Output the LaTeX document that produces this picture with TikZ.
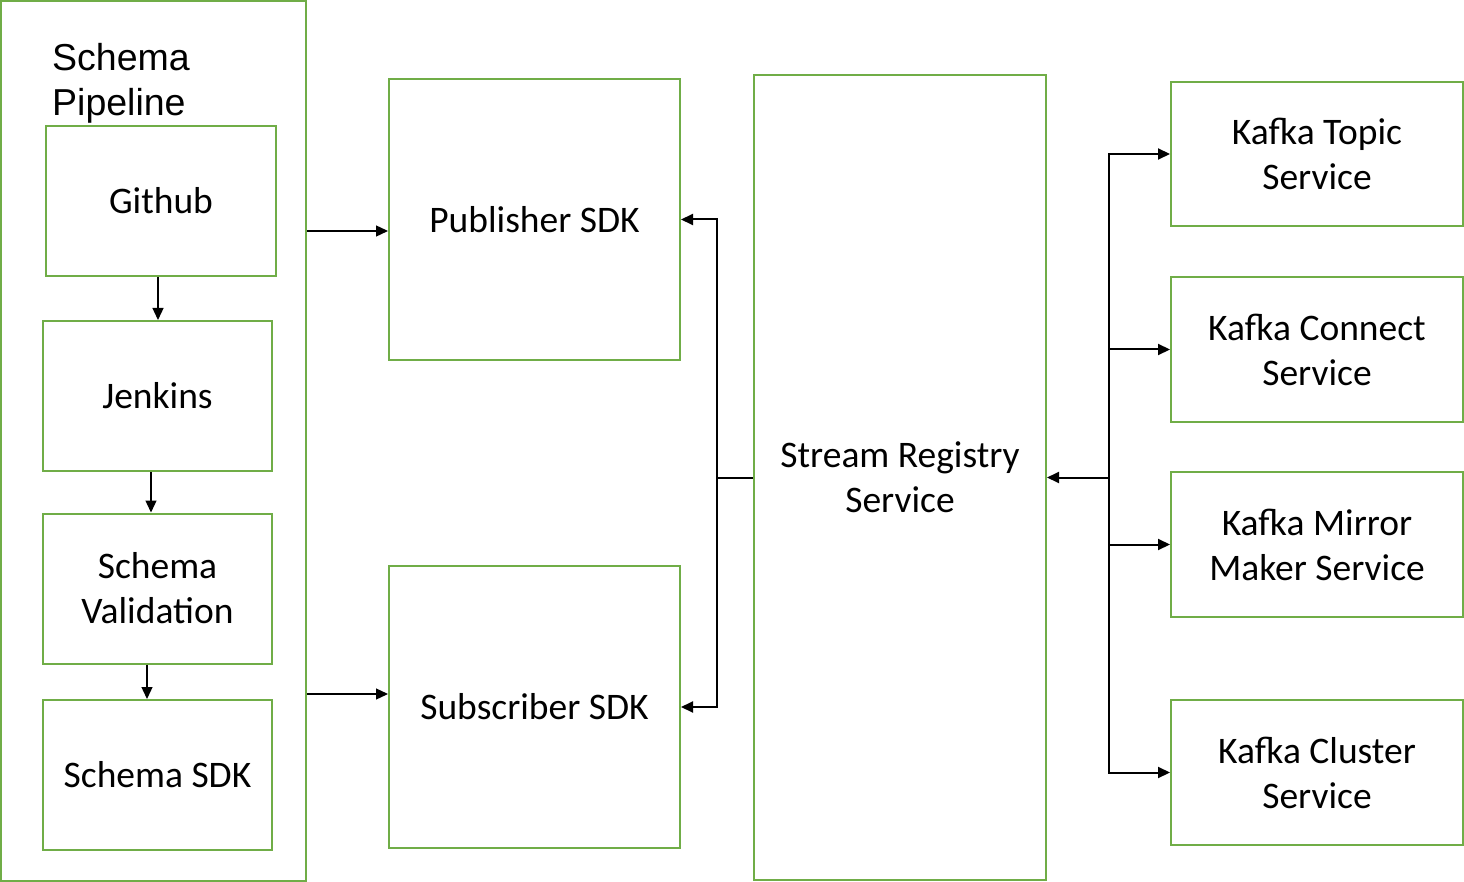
\documentclass[tikz,border=0pt]{standalone}
\usepackage{fontspec}
\setmainfont{Carlito}
\newfontfamily\arialf{Liberation Sans}
\usetikzlibrary{arrows.meta}
\definecolor{offgreen}{HTML}{70AD47}
\tikzset{
  box/.style={draw=offgreen, line width=2pt, inner sep=0pt, align=center,
    font=\fontsize{37.5}{45}\selectfont},
  arr/.style={draw=black, line width=1.3pt, -{Triangle[length=12pt,width=11pt]}},
  barr/.style={arr, line width=2pt},
  wire/.style={draw=black, line width=2pt},
}
\begin{document}
\begin{tikzpicture}[x=1pt,y=-1pt]
\useasboundingbox (0,0) rectangle (1464,882);
% Schema pipeline container
\node[box, minimum width=305pt, minimum height=879pt] (pipe) at (153.5,441) {};
\node[anchor=north west, align=left, inner sep=0pt, font=\arialf\fontsize{37.5}{45}\selectfont] (pipelabel) at (52,43) {Schema\\Pipeline};
\node[box, minimum width=230pt, minimum height=150pt] (github) at (161,201) {Github};
\node[box, minimum width=229pt, minimum height=150pt] (jenkins) at (157.5,396) {Jenkins};
\node[box, minimum width=229pt, minimum height=150pt] (valid) at (157.5,588.5) {Schema\\Validation};
\node[box, minimum width=229pt, minimum height=150pt] (ssdk) at (157.5,775) {Schema SDK};
% SDKs
\node[box, minimum width=291pt, minimum height=281pt] (pub) at (534.5,219.5) {Publisher SDK};
\node[box, minimum width=291pt, minimum height=282pt] (sub) at (534.5,707) {Subscriber SDK};
% Stream registry
\node[box, minimum width=292pt, minimum height=805pt] (srs) at (900,477.5) {Stream Registry\\Service};
% Kafka services
\node[box, minimum width=292pt, minimum height=144pt] (topic) at (1317,154) {Kafka Topic\\Service};
\node[box, minimum width=292pt, minimum height=145pt] (connect) at (1317,349.5) {Kafka Connect\\Service};
\node[box, minimum width=292pt, minimum height=145pt] (mirror) at (1317,544.5) {Kafka Mirror\\Maker Service};
\node[box, minimum width=292pt, minimum height=145pt] (cluster) at (1317,772.5) {Kafka Cluster\\Service};
% pipeline internal arrows
\coordinate (ax1) at (158,0);
\coordinate (ax2) at (151,0);
\coordinate (ax3) at (147,0);
\draw[arr] (github.south -| ax1) -- (jenkins.north -| ax1);
\draw[arr] (jenkins.south -| ax2) -- (valid.north -| ax2);
\draw[arr] (valid.south -| ax3) -- (ssdk.north -| ax3);
% pipeline to SDKs
\coordinate (py1) at (0,231);
\coordinate (py2) at (0,694);
\draw[arr] (pipe.east |- py1) -- (pub.west |- py1);
\draw[arr] (pipe.east |- py2) -- (sub.west |- py2);
% registry to SDKs
\coordinate (lbus) at (717,477.5);
\draw[wire] (srs.west) -- (lbus);
\draw[barr] (lbus) |- (pub.east);
\draw[barr] (lbus) |- (sub.east);
% kafka services to registry
\coordinate (rbus) at (1109,477.5);
\draw[barr] (rbus) -- (srs.east);
\draw[barr] (rbus) |- (topic.west);
\draw[barr] (rbus) |- (connect.west);
\draw[barr] (rbus) |- (mirror.west);
\draw[barr] (rbus) |- (cluster.west);
\end{tikzpicture}
\end{document}
